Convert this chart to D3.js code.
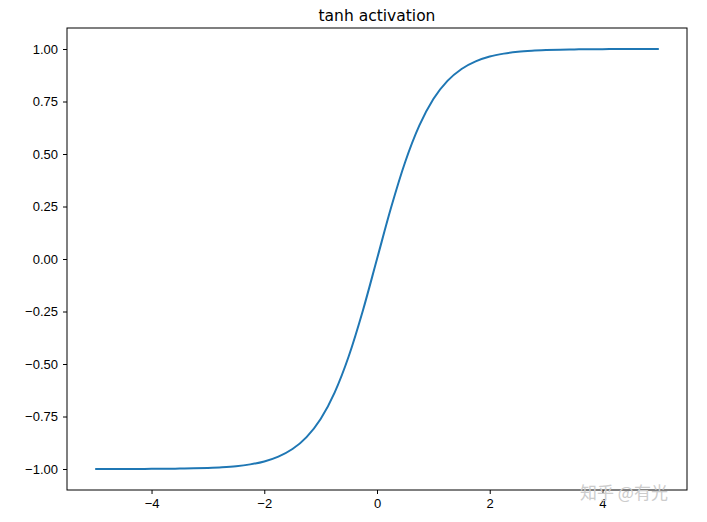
<!DOCTYPE html>
<html><head><meta charset="utf-8">
<script src="https://cdn.jsdelivr.net/npm/d3@7"></script>
<style>body{margin:0;background:#fff}svg{font-family:"DejaVu Sans",sans-serif}</style>
</head><body>
<script>
const xValues = [-5,-4.75,-4.5,-4.25,-4,-3.75,-3.5,-3.25,-3,-2.75,-2.5,-2.25,-2,-1.75,-1.5,-1.25,-1,-0.75,-0.5,-0.25,0,0.25,0.5,0.75,1,1.25,1.5,1.75,2,2.25,2.5,2.75,3,3.25,3.5,3.75,4,4.25,4.5,4.75,5];
const yValues = [-1.0,-1.0,-1.0,-1.0,-0.999,-0.999,-0.998,-0.997,-0.995,-0.992,-0.987,-0.978,-0.964,-0.941,-0.905,-0.848,-0.762,-0.635,-0.462,-0.245,0,0.245,0.462,0.635,0.762,0.848,0.905,0.941,0.964,0.978,0.987,0.992,0.995,0.997,0.998,0.999,0.999,1.0,1.0,1.0,1.0];
const xTicks = [-4,-2,0,2,4];
const yTicks = [-1,-0.75,-0.5,-0.25,0,0.25,0.5,0.75,1];
const title = "tanh activation";

const W=707,H=522,L=67,R=687,T=28,B=490;
const svg=d3.select("body").append("svg").attr("width",W).attr("height",H);
const x=d3.scaleLinear().domain([-5.5,5.5]).range([L,R]);
const y=d3.scaleLinear().domain([-1.1,1.1]).range([B,T]);
const xa=svg.append("g").attr("transform",`translate(0,${B})`).call(d3.axisBottom(x).tickValues(xTicks).tickSize(4).tickPadding(5).tickFormat(d=>d<0?"\u2212"+Math.abs(d):d));
const ya=svg.append("g").attr("transform",`translate(${L},0)`).call(d3.axisLeft(y).tickValues(yTicks).tickSize(4).tickPadding(5).tickFormat(d=>{const s=Math.abs(d).toFixed(2);return d<0?"\u2212"+s:s;}));
[xa,ya].forEach(a=>{a.selectAll("text").attr("font-size",13).attr("fill","#000");a.select(".domain").remove();a.selectAll("line").attr("stroke","#000");});
svg.append("rect").attr("x",L).attr("y",T).attr("width",R-L).attr("height",B-T).attr("fill","none").attr("stroke","#000").attr("stroke-width",1);
svg.append("path").datum(xValues.map((v,i)=>[v,yValues[i]])).attr("fill","none").attr("stroke","#1f77b4").attr("stroke-width",2)
 .attr("d",d3.line().x(d=>x(d[0])).y(d=>y(d[1])).curve(d3.curveMonotoneX));
svg.append("text").attr("x",(L+R)/2).attr("y",T-7).attr("text-anchor","middle").attr("font-size",15.5).text(title);
svg.append("text").attr("x",580).attr("y",499).attr("font-size",17).attr("fill","#ccc").attr("font-family","Noto Sans CJK SC").text("知乎 @有光");
</script>
</body></html>
